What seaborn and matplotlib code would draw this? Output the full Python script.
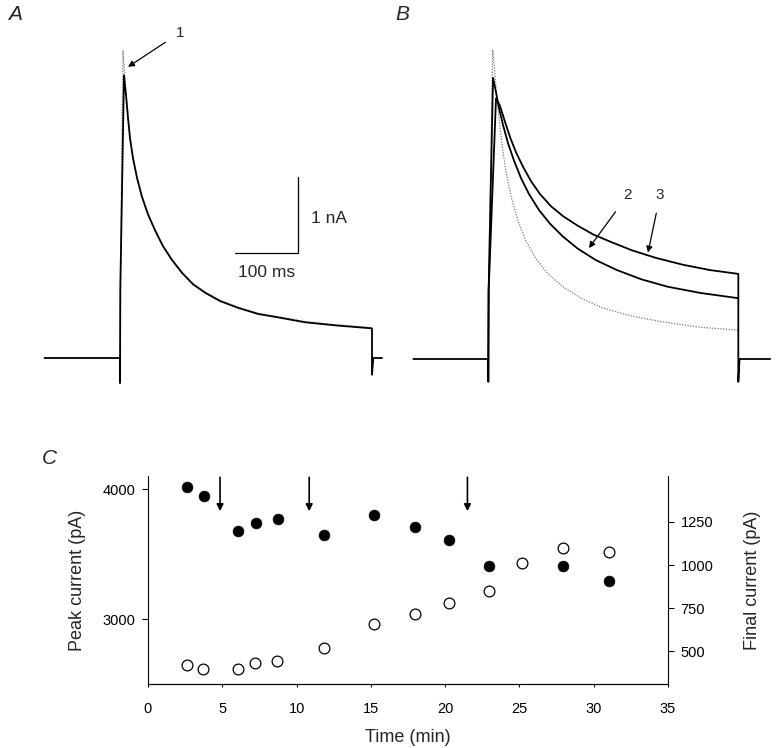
import numpy as np
import pandas as pd
import matplotlib
matplotlib.use("Agg")
import matplotlib.pyplot as plt
import seaborn as sns

# ---------------- data ----------------
# Panel A: current traces (time in ms from pulse onset, current in nA)
a_trace1_t = [-120, 0, 0, 0.5, 6.3, 9.5, 12.7, 15.9, 20.6, 27.0, 34.9, 44.4, 55.6, 68.3, 82.5,
              98.4, 115.9, 134.9, 158.7, 187.3, 219, 254, 293.7, 341, 400, 400, 402, 416]
a_trace1_i = [0, 0, -0.33, 0.9, 3.72, 3.46, 3.16, 2.89, 2.63, 2.37, 2.12, 1.89, 1.68, 1.47, 1.29,
              1.12, 0.97, 0.86, 0.75, 0.66, 0.58, 0.53, 0.47, 0.43, 0.39, -0.22, 0, 0]
a_dotted_t = [0, 0.5, 4.8, 7.9, 11.1, 15.9, 20.6, 27.0, 34.9, 44.4, 55.6, 68.3, 82.5,
              98.4, 115.9, 134.9, 158.7, 187.3, 219, 254, 293.7, 341, 400]
a_dotted_i = [0, 1.0, 4.05, 3.66, 3.33, 2.90, 2.64, 2.38, 2.13, 1.90, 1.69, 1.48, 1.30,
              1.13, 0.98, 0.87, 0.76, 0.67, 0.59, 0.54, 0.48, 0.44, 0.40]

# Panel B: control (dotted), traces 2 and 3
b_dotted_t = [0, 0.5, 7.0, 10.7, 13.9, 18.7, 23.5, 29.9, 37.9, 47.5, 60.3, 76.3, 95.5, 119.5,
              148.3, 183.5, 226.7, 278, 335.4, 400]
b_dotted_i = [0, 1.0, 4.07, 3.74, 3.41, 3.05, 2.72, 2.39, 2.09, 1.82, 1.55, 1.32, 1.12, 0.95,
              0.80, 0.67, 0.57, 0.49, 0.42, 0.38]
b_trace2_t = [-120, 0, 0, 0.5, 7.5, 12.3, 17.1, 23.5, 31.5, 41.1, 52.3, 65.1, 81.1, 98.7, 119.5,
              143.5, 172.3, 205.9, 244.3, 287.5, 338.7, 400, 400, 402, 451]
b_trace2_i = [0, 0, -0.3, 0.9, 3.70, 3.51, 3.30, 3.08, 2.84, 2.61, 2.38, 2.17, 1.96, 1.78, 1.61,
              1.45, 1.30, 1.17, 1.05, 0.95, 0.87, 0.80, -0.3, 0, 0]
b_trace3_t = [0, 0.5, 12.3, 18.7, 26.7, 34.7, 44.3, 55.5, 68.3, 82.7, 100.3, 119.5, 141.9,
              167.5, 196.3, 229.9, 268.3, 311.5, 354.7, 400, 400]
b_trace3_i = [0, 0.9, 3.43, 3.33, 3.12, 2.92, 2.72, 2.53, 2.34, 2.17, 2.01, 1.88, 1.76,
              1.64, 1.54, 1.43, 1.33, 1.24, 1.17, 1.12, 0.80]

scalebar_ms = 100
scalebar_na = 1

# Panel C
peak_time = [2.65, 3.74, 6.07, 7.29, 8.72, 11.82, 15.18, 17.99, 20.26, 22.98, 27.9, 31.0]
peak_current = [4018, 3948, 3678, 3736, 3770, 3644, 3798, 3707, 3607, 3411, 3411, 3298]
final_time = [2.65, 3.68, 6.04, 7.22, 8.69, 11.82, 15.18, 17.96, 20.26, 22.98, 25.18, 27.9, 31.0]
final_current = [419, 396, 400, 435, 443, 518, 661, 718, 783, 852, 1010, 1098, 1075]
arrow_times = [4.85, 10.85, 21.5]

x_ticks = [0, 5, 10, 15, 20, 25, 30, 35]
left_ticks = [3000, 4000]
right_ticks = [500, 750, 1000, 1250]

# ---------------- figure ----------------
sns.set_theme(style="white")
plt.rcParams["font.family"] = ["Liberation Sans", "DejaVu Sans"]

W, H = 776, 748
fig = plt.figure(figsize=(W / 100, H / 100), dpi=100)


def px_axes(x0, y0, x1, y1):
    return fig.add_axes([x0 / W, 1 - y1 / H, (x1 - x0) / W, (y1 - y0) / H])


LW = 1.3
DOT = dict(color="#7a7a7a", lw=0.9, linestyle=(0, (1, 1.2)))
ARROW = dict(arrowstyle="-|>", color="black", lw=0.9, shrinkA=6, shrinkB=0,
             mutation_scale=9)

# ---- Panel A ----
axA = px_axes(38.1, 8.4, 390.9, 396)
axA.set_xlim(-130, 430)
axA.set_ylim(-0.5, 4.6)
axA.axis("off")
sns.lineplot(x=a_dotted_t, y=a_dotted_i, sort=False, estimator=None, ax=axA, **DOT)
sns.lineplot(x=a_trace1_t, y=a_trace1_i, sort=False, estimator=None, ax=axA,
             color="black", lw=LW)
# scale bar
sb_x1, sb_y0 = 283, 1.38
axA.plot([sb_x1 - scalebar_ms, sb_x1, sb_x1], [sb_y0, sb_y0, sb_y0 + scalebar_na],
         color="black", lw=0.9, solid_joinstyle="miter")
axA.text(sb_x1 + 20, sb_y0 + scalebar_na / 2 - 0.04, "1 nA", fontsize=12.5,
         ha="left", va="center")
axA.text(sb_x1 - scalebar_ms / 2, sb_y0 - 0.25, "100 ms", fontsize=12.5,
         ha="center", va="center")
axA.annotate("1", xy=(12.7, 3.83), xytext=(95, 4.28), fontsize=11, ha="center",
             va="center", arrowprops=ARROW)

# ---- Panel B ----
axB = px_axes(410.2, 9.4, 775.8, 397)
axB.set_xlim(-125, 460)
axB.set_ylim(-0.5, 4.6)
axB.axis("off")
sns.lineplot(x=b_dotted_t, y=b_dotted_i, sort=False, estimator=None, ax=axB, **DOT)
sns.lineplot(x=b_trace3_t, y=b_trace3_i, sort=False, estimator=None, ax=axB,
             color="black", lw=LW)
sns.lineplot(x=b_trace2_t, y=b_trace2_i, sort=False, estimator=None, ax=axB,
             color="black", lw=LW)
axB.annotate("2", xy=(161, 1.46), xytext=(223.5, 2.16), fontsize=11, ha="center",
             va="center", arrowprops=ARROW)
axB.annotate("3", xy=(255.5, 1.40), xytext=(275, 2.16), fontsize=11, ha="center",
             va="center", arrowprops=ARROW)

# panel letters
fig.text(8 / W, 1 - 15 / H, "A", fontsize=15, style="italic", ha="left", va="center")
fig.text(395 / W, 1 - 14 / H, "B", fontsize=15, style="italic", ha="left", va="center")
fig.text(42 / W, 1 - 458 / H, "C", fontsize=15, style="italic", ha="left", va="center")

# ---- Panel C ----
axC = px_axes(148, 476, 668, 684)
axR = axC.twinx()
axC.set_xlim(0, 35)
axC.set_ylim(2505, 4100)
axR.set_ylim(312, 1515)

sns.scatterplot(x=peak_time, y=peak_current, ax=axC, color="black", s=60,
                edgecolor="black", linewidth=0.5, zorder=3)
sns.scatterplot(x=final_time, y=final_current, ax=axR, color="white", s=60,
                edgecolor="black", linewidth=0.9, zorder=3)

for t in arrow_times:
    axC.annotate("", xy=(t, 3830), xytext=(t, 4090),
                 arrowprops=dict(arrowstyle="-|>", color="black", lw=1.2,
                                 shrinkA=0, shrinkB=0, mutation_scale=10))

for ax in (axC, axR):
    ax.spines["top"].set_visible(False)
    for s in ax.spines.values():
        s.set_color("black")
        s.set_linewidth(0.8)
axR.spines["left"].set_visible(False)
axC.spines["right"].set_visible(False)

axC.set_xticks(x_ticks)
axC.set_yticks(left_ticks)
axR.set_yticks(right_ticks)
axC.tick_params(axis="x", bottom=True, length=2, width=0.8, pad=11, labelsize=10.5,
                colors="black")
axC.tick_params(axis="y", left=True, length=4, width=0.8, pad=5, labelsize=10.5,
                colors="black")
axR.tick_params(axis="y", right=True, length=4, width=0.8, pad=5, labelsize=10.5,
                colors="black")

axC.set_xlabel("Time (min)", fontsize=13, labelpad=9)
axC.set_ylabel("Peak current (pA)", fontsize=13, labelpad=12)
axR.set_ylabel("Final current (pA)", fontsize=13, labelpad=22)

fig.savefig("out.png", dpi=100, facecolor="white")
